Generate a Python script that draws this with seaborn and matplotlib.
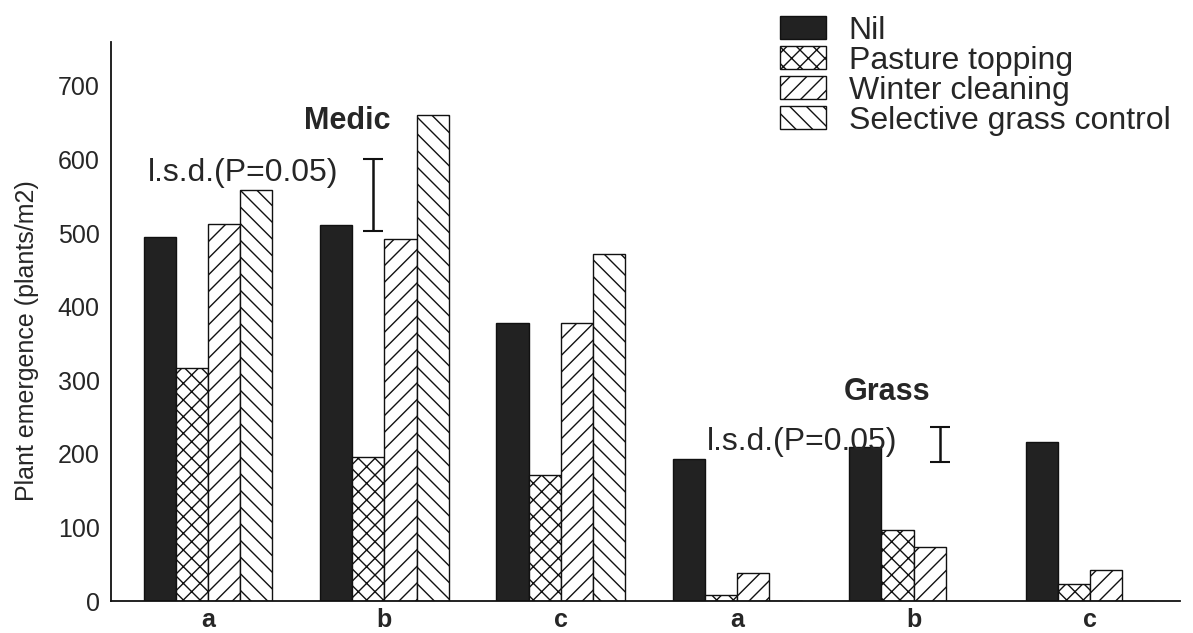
import matplotlib
matplotlib.use("Agg")
import matplotlib.pyplot as plt
import seaborn as sns
import pandas as pd
import numpy as np
from matplotlib.patches import Patch

# ---- data ----
groups = ["Medic a", "Medic b", "Medic c", "Grass a", "Grass b", "Grass c"]
tick_labels = ["a", "b", "c", "a", "b", "c"]
treatments = ["Nil", "Pasture topping", "Winter cleaning", "Selective grass control"]
nil = [495, 511, 378, 193, 210, 216]
pasture = [317, 196, 171, 8, 96, 23]
winter = [513, 492, 378, 38, 74, 42]
selective = [558, 660, 472, 0, 0, 0]
lsd_medic = (503, 601)
lsd_grass = (189, 236)

sns.set_theme(style="white")
plt.rcParams["font.family"] = ["Liberation Sans", "DejaVu Sans"]
plt.rcParams["hatch.linewidth"] = 1.0

rows = []
for t, vals in zip(treatments, [nil, pasture, winter, selective]):
    for g, v in zip(groups, vals):
        rows.append({"group": g, "treatment": t, "value": v})
df = pd.DataFrame(rows)

fig = plt.figure(figsize=(11.93, 6.33), dpi=100)
ax = fig.add_axes([0.093, 0.0505, 0.896, 0.8835])

palette = {"Nil": "#222222", "Pasture topping": "white",
           "Winter cleaning": "white", "Selective grass control": "white"}
sns.barplot(data=df, x="group", y="value", hue="treatment", order=groups,
            hue_order=treatments, palette=palette, width=0.73, ax=ax,
            edgecolor="#111111", linewidth=1.0, saturation=1, legend=False)

hatches = ["", "xx", "//", "\\\\"]
for cont, h in zip(ax.containers, hatches):
    for bar in cont:
        bar.set_hatch(h)

ax.set_xlim(-0.55, 5.51)
ax.set_ylim(0, 760)
ax.set_yticks(np.arange(0, 701, 100))
ax.set_xticks(range(len(groups)))
ax.set_xticklabels(tick_labels, fontweight="bold", fontsize=18)
ax.tick_params(axis="y", labelsize=18, length=3, width=0.8, pad=5, color="#555555")
ax.tick_params(axis="x", length=0, pad=5)
ax.set_xlabel("")
ax.set_ylabel("Plant emergence (plants/m2)", fontsize=18)
ax.yaxis.set_label_coords(-0.067, 0.465)
for s in ["top", "right"]:
    ax.spines[s].set_visible(False)
for s in ["left", "bottom"]:
    ax.spines[s].set_color("#111111")
    ax.spines[s].set_linewidth(1.3)

# annotations
ax.text(0.79, 653, "Medic", fontsize=22, fontweight="bold", ha="center", va="center")
ax.text(3.85, 284, "Grass", fontsize=22, fontweight="bold", ha="center", va="center")
ax.text(0.2, 581, "l.s.d.(P=0.05)", fontsize=23, ha="center", va="center")
ax.text(3.37, 216, "l.s.d.(P=0.05)", fontsize=23, ha="center", va="center")
for x, (lo, hi) in [(0.935, lsd_medic), (4.15, lsd_grass)]:
    ax.errorbar([x], [(lo + hi) / 2], yerr=[(hi - lo) / 2], color="#111111",
                capsize=7, elinewidth=1.8, capthick=1.5)

handles = [Patch(facecolor=palette[t], edgecolor="#111111", hatch=h, label=t)
           for t, h in zip(treatments, hatches)]
fig.legend(handles=handles, loc="upper left", bbox_to_anchor=(780 / 1193, 1 - 16 / 633),
           frameon=False, fontsize=23, handlelength=1.45, handleheight=0.72,
           labelspacing=0.0, handletextpad=0.7, borderpad=0, borderaxespad=0)

fig.savefig("out.png", dpi=100)
